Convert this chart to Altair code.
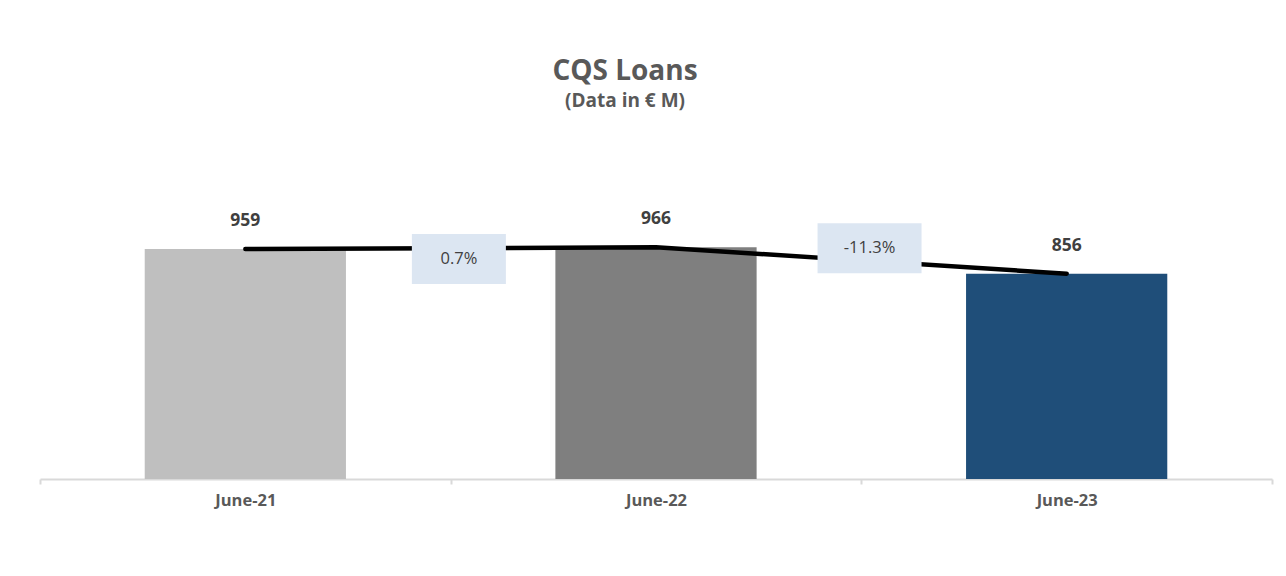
import altair as alt
import pandas as pd

periods = ["June-21", "June-22", "June-23"]
loans = [959, 966, 856]
growth_labels = ["0.7%", "-11.3%"]
growth_to = ["June-22", "June-23"]
growth_label_level = [917, 962]

bar_colors = ["#BFBFBF", "#7F7F7F", "#1F4E79"]
FONT = "Open Sans"

df = pd.DataFrame({"period": periods, "loans": loans})
gdf = pd.DataFrame({"period": growth_to, "label": growth_labels, "level": growth_label_level})

xscale = alt.Scale(domain=periods, paddingInner=0, paddingOuter=0)
yscale = alt.Scale(domain=[0, 1455], nice=False)

xaxis = alt.Axis(
    title=None, labelAngle=0, tickBand="extent",
    domainColor="#D9D9D9", domainWidth=2,
    tickColor="#D9D9D9", tickWidth=2, tickSize=5,
    labelFont=FONT, labelFontSize=16.5, labelFontWeight="bold",
    labelColor="#595959", labelPadding=8,
)

x = alt.X("period:N", scale=xscale, sort=periods, axis=xaxis)
y = alt.Y("loans:Q", scale=yscale, axis=None)

bars = alt.Chart(df).mark_bar(width=alt.RelativeBandSize(0.49)).encode(
    x=x, y=y,
    color=alt.Color("period:N", scale=alt.Scale(domain=periods, range=bar_colors), legend=None),
)

line = alt.Chart(df).mark_line(color="black", strokeWidth=4.5, strokeCap="round").encode(x=x, y=y)

values = alt.Chart(df).mark_text(
    dy=-28, font=FONT, fontWeight="bold", fontSize=17.5, color="#404040", baseline="middle"
).encode(x=x, y=y, text=alt.Text("loans:Q"))

p1 = "M-0.904,-0.481H0.904V0.481H-0.904Z"
p2 = "M-1,-0.481H1V0.481H-1Z"

gx = alt.X("period:N", scale=xscale, sort=periods, axis=xaxis, bandPosition=0.02)
gy = alt.Y("level:Q", scale=yscale, axis=None)

boxes = alt.Chart(gdf).mark_point(filled=True, opacity=1, size=10816, color="#DCE6F2", strokeWidth=0).encode(
    x=gx, y=gy,
    shape=alt.Shape("label:N", scale=alt.Scale(domain=growth_labels, range=[p1, p2]), legend=None),
)

gtext = alt.Chart(gdf).mark_text(
    font=FONT, fontSize=16.5, color="#404040", baseline="middle"
).encode(x=gx, y=gy, text="label:N")

chart = alt.layer(bars, line, boxes, gtext, values).properties(
    width=1232, height=349,
    autosize=alt.AutoSizeParams(type="none"),
    padding={"left": 32, "top": 122, "right": 6, "bottom": 89},
    title=alt.TitleParams(
        text="CQS Loans", subtitle="(Data in € M)",
        font=FONT, fontSize=28, fontWeight="bold", color="#595959",
        subtitleFont=FONT, subtitleFontSize=19, subtitleFontWeight="bold", subtitleColor="#595959",
        subtitlePadding=6, anchor="middle", frame="group", offset=19, dx=-31,
    ),
    background="white",
).configure_view(stroke=None)

chart.save("out.html", embed_options={"renderer": "svg", "actions": False})
